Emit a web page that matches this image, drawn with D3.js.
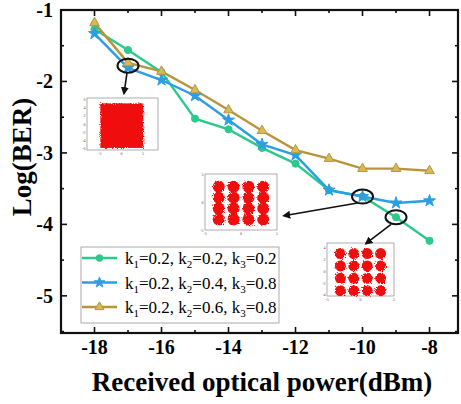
<!DOCTYPE html>
<html>
<head>
<meta charset="utf-8">
<script src="https://cdn.jsdelivr.net/npm/d3@7"></script>
<style>
  body { margin: 0; background: #fff; }
  svg { display: block; font-family: "Liberation Serif", "Times New Roman", serif; }
</style>
</head>
<body>
<svg width="461" height="404"></svg>
<script>
// data
const power = [-18, -17, -16, -15, -14, -13, -12, -11, -10, -9, -8];
const berA = [-1.27, -1.56, -1.87, -2.52, -2.67, -2.93, -3.15, -3.52, -3.61, -3.90, -4.23];
const berB = [-1.33, -1.81, -1.98, -2.20, -2.54, -2.88, -3.03, -3.52, -3.61, -3.70, -3.67];
const berC = [-1.18, -1.74, -1.86, -2.12, -2.40, -2.69, -2.96, -3.08, -3.22, -3.22, -3.25];
const seriesNames = ["A", "B", "C"];
const xTicks = [-18, -16, -14, -12, -10, -8];
const yTicks = [-1, -2, -3, -4, -5];
const qamLevels = [-3, -1, 1, 3];

const svg = d3.select("svg");
const x = d3.scaleLinear().domain([-19, -7.15]).range([61, 458]);
const y = d3.scaleLinear().domain([-5.52, -1]).range([333, 10]);

const colors = { A: "#2cc98c", B: "#2b9fe2", C: "#b8953a" };
const symbols = { A: d3.symbolCircle, B: d3.symbolStar, C: d3.symbolTriangle };
const sizes = { A: 40, B: 45, C: 40 };
const values = { A: berA, B: berB, C: berC };

const defs = svg.append("defs");
defs.append("marker")
    .attr("id", "arrow")
    .attr("viewBox", "0 0 10 10")
    .attr("refX", 8).attr("refY", 5)
    .attr("markerWidth", 5).attr("markerHeight", 5)
    .attr("orient", "auto")
    .append("path").attr("d", "M0,0 L10,5 L0,10 Z").attr("fill", "#111");
const rough = defs.append("filter").attr("id", "rough")
    .attr("x", "-20%").attr("y", "-20%").attr("width", "140%").attr("height", "140%");
rough.append("feTurbulence").attr("type", "fractalNoise").attr("baseFrequency", 0.9).attr("numOctaves", 2).attr("result", "n");
rough.append("feDisplacementMap").attr("in", "SourceGraphic").attr("in2", "n").attr("scale", 4);

// axes (ticks inward)
const minorX = d3.range(-19, -7, 1);
const minorY = d3.range(-5.5, -0.9, 0.5);
const axes = svg.append("g").attr("stroke", "#111");
minorX.forEach(v => {
    const major = xTicks.includes(v);
    const len = major ? 6 : 3;
    axes.append("line").attr("x1", x(v)).attr("x2", x(v)).attr("y1", 333).attr("y2", 333 - len).attr("stroke-width", 1.6);
    axes.append("line").attr("x1", x(v)).attr("x2", x(v)).attr("y1", 10).attr("y2", 10 + len).attr("stroke-width", 1.6);
});
minorY.forEach(v => {
    const major = Number.isInteger(v);
    const len = major ? 6 : 3;
    axes.append("line").attr("y1", y(v)).attr("y2", y(v)).attr("x1", 61).attr("x2", 61 + len).attr("stroke-width", 1.6);
    axes.append("line").attr("y1", y(v)).attr("y2", y(v)).attr("x1", 458).attr("x2", 458 - len).attr("stroke-width", 1.6);
});
svg.append("rect").attr("x", 61).attr("y", 10).attr("width", 397).attr("height", 323)
    .attr("fill", "none").attr("stroke", "#111").attr("stroke-width", 2.2);

svg.append("g").selectAll("text").data(xTicks).join("text")
    .attr("x", d => x(d)).attr("y", 354)
    .attr("text-anchor", "middle").attr("font-size", 20).attr("font-weight", "bold")
    .text(d => d);
svg.append("g").selectAll("text").data(yTicks).join("text")
    .attr("x", 53).attr("y", d => y(d) + 7)
    .attr("text-anchor", "end").attr("font-size", 20).attr("font-weight", "bold")
    .text(d => d);

svg.append("text").attr("x", 262).attr("y", 391).attr("text-anchor", "middle")
    .attr("font-size", 27).attr("font-weight", "bold").text("Received optical power(dBm)");
svg.append("text").attr("transform", "translate(31,157) rotate(-90)").attr("text-anchor", "middle")
    .attr("font-size", 27).attr("font-weight", "bold").text("Log(BER)");

// lines
const line = d3.line().x((d, i) => x(power[i])).y(d => y(d));
seriesNames.forEach(k => {
    svg.append("path").datum(values[k]).attr("d", line)
        .attr("fill", "none").attr("stroke", colors[k]).attr("stroke-width", 2.4);
});
seriesNames.forEach(k => {
    svg.append("g").selectAll("path").data(values[k]).join("path")
        .attr("transform", (d, i) => `translate(${x(power[i])},${y(d)})`)
        .attr("d", d3.symbol(symbols[k], sizes[k]))
        .attr("fill", k === "C" ? "#d8b85a" : colors[k])
        .attr("stroke", colors[k]).attr("stroke-width", 1);
});

// constellation insets
function inset(box, xd, yd, xt, yt, draw) {
    const g = svg.append("g");
    const sx = d3.scaleLinear().domain(xd).range([box.x0, box.x1]);
    const sy = d3.scaleLinear().domain(yd).range([box.y1, box.y0]);
    g.append("rect").attr("x", box.x0).attr("y", box.y0)
        .attr("width", box.x1 - box.x0).attr("height", box.y1 - box.y0)
        .attr("fill", "#fff").attr("stroke", "#999").attr("stroke-width", 0.8);
    draw(g, sx, sy);
    g.selectAll(".tx").data(xt).join("text").attr("class", "tx")
        .attr("x", d => sx(d)).attr("y", box.y1 + 5)
        .attr("text-anchor", "middle").attr("font-size", 4).attr("fill", "#555").text(d => d);
    g.selectAll(".ty").data(yt).join("text").attr("class", "ty")
        .attr("x", box.x0 - 1.5).attr("y", d => sy(d) + 1.5)
        .attr("text-anchor", "end").attr("font-size", 4).attr("fill", "#555").text(d => d);
}

inset({ x0: 87, x1: 158, y0: 98, y1: 150 }, [-8, 8.5], [-6.3, 6.3], [-5, 0, 5], [6, 4, 2, 0, -2, -4, -6],
    (g, sx, sy) => {
        g.append("rect").attr("x", sx(-4.9)).attr("y", sy(5)).attr("width", sx(5.1) - sx(-4.9))
            .attr("height", sy(-5.8) - sy(5)).attr("fill", "#f01010").attr("filter", "url(#rough)");
    });

const grid = qamLevels.flatMap(a => qamLevels.map(b => [a, b]));
inset({ x0: 205, x1: 277, y0: 174, y1: 230 }, [-5, 5], [-5, 5], [-5, 0, 5], [5, 0, -5],
    (g, sx, sy) => {
        g.selectAll("circle").data(grid).join("circle")
            .attr("cx", d => sx(d[0] * 1.03)).attr("cy", d => sy(d[1] * 0.98 - 0.2)).attr("r", 6)
            .attr("fill", "#f01010").attr("filter", "url(#rough)");
    });
inset({ x0: 327, x1: 394, y0: 243, y1: 296 }, [-5, 5], [-4.2, 4.8], [-5, 0, 5], [4, 2, 0, -2, -4],
    (g, sx, sy) => {
        g.selectAll("circle").data(grid).join("circle")
            .attr("cx", d => sx(d[0])).attr("cy", d => sy(d[1] * 1.05 - 0.15)).attr("r", 5.5)
            .attr("fill", "#f01010").attr("filter", "url(#rough)");
    });

// annotations
const notes = [
    { px: -17, v: -1.78, tx: -17.12, tv: -2.17, sx: -17.03, sv: -1.88 },
    { px: -10, v: -3.61, tx: -12.35, tv: -3.88, sx: -10.15, sv: -3.70 },
    { px: -9, v: -3.90, tx: -9.9, tv: -4.27, sx: -9.15, sv: -4.0 }
];
notes.forEach(n => {
    svg.append("ellipse").attr("cx", x(n.px)).attr("cy", y(n.v)).attr("rx", 10.5).attr("ry", 7)
        .attr("fill", "none").attr("stroke", "#111").attr("stroke-width", 2);
    svg.append("line").attr("x1", x(n.sx)).attr("y1", y(n.sv)).attr("x2", x(n.tx)).attr("y2", y(n.tv))
        .attr("stroke", "#111").attr("stroke-width", 1.6).attr("marker-end", "url(#arrow)");
});

// legend
const lg = svg.append("g");
lg.append("rect").attr("x", 81).attr("y", 247).attr("width", 198).attr("height", 76)
    .attr("fill", "#fff").attr("stroke", "#aaa").attr("stroke-width", 1);
const labels = [["0.2", "0.2", "0.2"], ["0.2", "0.4", "0.8"], ["0.2", "0.6", "0.8"]];
seriesNames.forEach((k, i) => {
    const ly = 258 + i * 24.5;
    lg.append("line").attr("x1", 82).attr("x2", 117).attr("y1", ly).attr("y2", ly)
        .attr("stroke", colors[k]).attr("stroke-width", 2.4);
    lg.append("path").attr("transform", `translate(99.5,${ly})`)
        .attr("d", d3.symbol(symbols[k], 35))
        .attr("fill", k === "C" ? "#d8b85a" : colors[k]).attr("stroke", colors[k]);
    const t = lg.append("text").attr("x", 125).attr("y", ly + 6).attr("font-size", 17);
    labels[i].forEach((v, j) => {
        t.append("tspan").text("k");
        t.append("tspan").attr("font-size", 11).attr("dy", 4).text(j + 1);
        t.append("tspan").attr("dy", -4).text("=" + v + (j < 2 ? ", " : ""));
    });
});
</script>
</body>
</html>
